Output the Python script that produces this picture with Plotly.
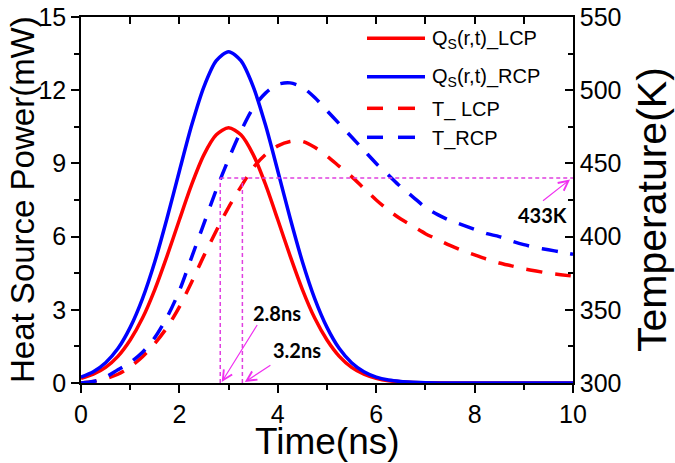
import plotly.graph_objects as go

# ---------------- data ----------------
time_q = [0, 0.25, 0.5, 0.75, 1, 1.25, 1.5, 1.75, 2, 2.25, 2.5, 2.75, 3,
          3.25, 3.5, 3.75, 4, 4.25, 4.5, 4.75, 5, 5.25, 5.5, 5.75, 6,
          6.25, 6.5, 6.75, 7, 8, 9, 10]
q_lcp = [0.19, 0.36, 0.64, 1.09, 1.76, 2.66, 3.83, 5.21, 6.69, 8.14, 9.36, 10.17, 10.46,
         10.17, 9.36, 8.14, 6.69, 5.21, 3.83, 2.66, 1.76, 1.09, 0.64, 0.36, 0.19,
         0.09, 0.05, 0.02, 0.01, 0, 0, 0]
q_rcp = [0.24, 0.46, 0.83, 1.41, 2.28, 3.46, 4.97, 6.76, 8.69, 10.57, 12.15, 13.21, 13.58,
         13.21, 12.15, 10.57, 8.69, 6.76, 4.97, 3.46, 2.28, 1.41, 0.83, 0.46, 0.24,
         0.12, 0.06, 0.03, 0.01, 0, 0, 0]

time_t = [0, 0.25, 0.5, 0.75, 1, 1.25, 1.5, 1.75, 2, 2.25, 2.5, 2.75, 3,
          3.25, 3.5, 3.75, 4, 4.25, 4.5, 4.75, 5, 5.25, 5.5, 5.75, 6,
          6.25, 6.5, 6.75, 7, 7.25, 7.5, 7.75, 8, 8.25, 8.5, 8.75, 9,
          9.25, 9.5, 9.75, 10]
t_lcp = [300, 301, 303, 306, 311, 318, 327, 338, 352, 369, 387, 404, 420,
         434, 447, 456, 462, 465, 465, 461, 455, 448, 441, 433, 425,
         418, 412, 407, 402, 398, 394, 390.5, 387.5, 384.5, 382, 380, 378,
         376.5, 375, 374, 373]
t_rcp = [300, 301, 304, 309, 314, 321, 331, 345, 363, 386, 409, 432, 453,
         472, 488, 498, 504, 505, 502, 495, 486, 477, 468, 459, 450,
         442, 434, 427, 420, 415, 411, 408, 405, 402, 400, 397, 394.5,
         392.5, 391, 389.5, 388]

marker_times = [2.83, 3.28]      # vertical guide positions (ns)
guide_level = 440                # horizontal guide level (K, drawn position)
marker_labels = ["2.8ns", "3.2ns"]
level_label = "433K"

x_ticks = [0, 2, 4, 6, 8, 10]
y_left_ticks = [0, 3, 6, 9, 12, 15]
y_right_ticks = [300, 350, 400, 450, 500, 550]

legend_names = ["Q<sub>S</sub>(r,t)_LCP", "Q<sub>S</sub>(r,t)_RCP", "T_ LCP", "T_RCP"]

# ---------------- figure ----------------
RED = "#FF0000"
BLUE = "#0000FF"
MAG = "#E040E0"
DASH = "16px,13px"
FONT = "Liberation Sans, Arial, sans-serif"

fig = go.Figure()

fig.add_trace(go.Scatter(x=time_q, y=q_lcp, mode="lines", name=legend_names[0],
                         line=dict(color=RED, width=3.5, shape="spline", smoothing=0.8), yaxis="y"))
fig.add_trace(go.Scatter(x=time_q, y=q_rcp, mode="lines", name=legend_names[1],
                         line=dict(color=BLUE, width=3.5, shape="spline", smoothing=0.8), yaxis="y"))
fig.add_trace(go.Scatter(x=time_t, y=t_lcp, mode="lines", name=legend_names[2],
                         line=dict(color=RED, width=3.5, dash=DASH, shape="spline", smoothing=0.8),
                         yaxis="y2"))
fig.add_trace(go.Scatter(x=time_t, y=t_rcp, mode="lines", name=legend_names[3],
                         line=dict(color=BLUE, width=3.5, dash=DASH, shape="spline", smoothing=0.8),
                         yaxis="y2"))

# guide lines (horizontal + two verticals)
fig.add_trace(go.Scatter(x=[marker_times[0], 10], y=[guide_level, guide_level], mode="lines",
                         line=dict(color=MAG, width=1.5, dash="4px,3px"),
                         xaxis="x2", yaxis="y2", showlegend=False, hoverinfo="skip"))
for mt in marker_times:
    fig.add_trace(go.Scatter(x=[mt, mt], y=[300, guide_level], mode="lines",
                             line=dict(color=MAG, width=1.5, dash="4px,3px"),
                             xaxis="x2", yaxis="y2", showlegend=False, hoverinfo="skip"))

# ---------------- axes ----------------
tickfont = dict(family=FONT, size=25, color="black")
common = dict(showline=True, linecolor="black", linewidth=1.5, showgrid=False, zeroline=False,
              automargin=False, tickwidth=1.5, tickcolor="black")
fig.update_layout(
    width=675, height=463,
    margin=dict(l=81, r=102, t=17, b=80, autoexpand=False),
    plot_bgcolor="white", paper_bgcolor="white",
    showlegend=False,
    xaxis=dict(range=[0, 10], tickvals=x_ticks, ticks="outside", ticklen=8,
               tickfont=tickfont, **common,
               minor=dict(dtick=1, ticks="outside", ticklen=5, tickwidth=1.5, tickcolor="black")),
    xaxis2=dict(range=[0, 10], overlaying="x", side="top", tickvals=x_ticks, ticks="inside",
                ticklen=7, showticklabels=False, **common,
                minor=dict(dtick=1, ticks="inside", ticklen=7, tickwidth=1.5, tickcolor="black")),
    yaxis=dict(range=[0, 15], tickvals=y_left_ticks, ticks="outside", ticklen=8,
               tickfont=tickfont, **common,
               minor=dict(dtick=1.5, ticks="outside", ticklen=5, tickwidth=1.5, tickcolor="black")),
    yaxis2=dict(range=[300, 550], tickvals=y_right_ticks, overlaying="y", side="right",
                ticks="inside", ticklen=8, tickfont=tickfont, **common,
                minor=dict(dtick=25, ticks="inside", ticklen=5, tickwidth=1.5, tickcolor="black")),
)


def px_x(p):
    return (p - 81) / 492.0


def px_y(p):
    return (383 - p) / 366.0


# ---------------- axis titles ----------------
fig.add_annotation(text="Time(ns)", xref="paper", yref="paper", x=0.5, y=px_y(441),
                   xanchor="center", yanchor="middle", showarrow=False,
                   font=dict(family=FONT, size=37, color="black"))
fig.add_annotation(text="Heat Source Power(mW)", xref="paper", yref="paper", x=px_x(22), y=0.5,
                   xanchor="center", yanchor="middle", textangle=-90, showarrow=False,
                   font=dict(family=FONT, size=33, color="black"))
fig.add_annotation(text="Temperature(K)", xref="paper", yref="paper", x=px_x(652), y=px_y(210),
                   xanchor="center", yanchor="middle", textangle=-90, showarrow=False,
                   font=dict(family=FONT, size=41, color="black"))

# ---------------- manual legend ----------------
legend_rows = [(38.3, RED, "solid"), (76.7, BLUE, "solid"), (108.3, RED, "dash"), (137.3, BLUE, "dash")]
for (row_y, col, style), name in zip(legend_rows, legend_names):
    if style == "solid":
        fig.add_shape(type="line", xref="paper", yref="paper", x0=px_x(367), x1=px_x(425),
                      y0=px_y(row_y), y1=px_y(row_y), line=dict(color=col, width=3.5))
    else:
        for a, b in [(367, 383), (398, 415)]:
            fig.add_shape(type="line", xref="paper", yref="paper", x0=px_x(a), x1=px_x(b),
                          y0=px_y(row_y), y1=px_y(row_y), line=dict(color=col, width=3.5))
    fig.add_annotation(text=name, xref="paper", yref="paper", x=px_x(430), y=px_y(row_y + 1),
                       xanchor="left", yanchor="middle", showarrow=False,
                       font=dict(family=FONT, size=20, color="black"))

# ---------------- marker annotations ----------------
afont = dict(family="Lato, Open Sans, sans-serif", size=20, color="black", weight="bold")
fig.add_annotation(text="<b>" + marker_labels[0] + "</b>", x=3.98, y=2.86, xref="x", yref="y",
                   showarrow=False, font=afont)
fig.add_annotation(text="<b>" + marker_labels[1] + "</b>", x=4.38, y=1.37, xref="x", yref="y",
                   showarrow=False, font=afont)
fig.add_annotation(text="<b>" + level_label + "</b>", x=9.39, y=6.88, xref="x", yref="y",
                   showarrow=False, font=afont)

arrows = [((3.60, 2.44), (2.86, 0.04)), ((3.88, 0.77), (3.33, 0.04)), ((9.36, 7.42), (9.94, 8.34))]
for (tx, ty), (hx, hy) in arrows:
    fig.add_annotation(text="", x=hx, y=hy, ax=tx, ay=ty, xref="x", yref="y", axref="x", ayref="y",
                       showarrow=True, arrowhead=5, arrowsize=1.6, arrowwidth=1.2,
                       arrowcolor="#F030F0")

# remove the default 8px page margin so the figure fills the window exactly
fig.write_html("out.html", config={"displayModeBar": False},
               post_script="document.body.style.margin='0';")
